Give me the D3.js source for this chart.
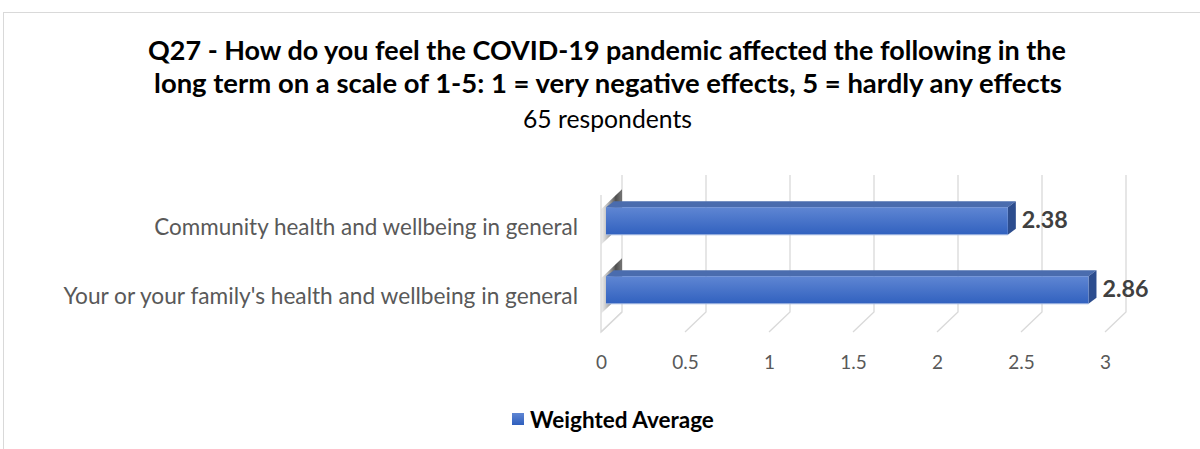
<!DOCTYPE html>
<html><head><meta charset="utf-8">
<script src="https://cdn.jsdelivr.net/npm/d3@7"></script>
<style>body{margin:0;background:#fff}svg{display:block}</style>
</head><body>
<svg id="c" width="1200" height="449"></svg>
<script>
const titleLines = ["Q27 - How do you feel the COVID-19 pandemic affected the following in the",
  "long term on a scale of 1-5: 1 = very negative effects, 5 = hardly any effects"];
const subtitle = "65 respondents";
const categories = ["Community health and wellbeing in general",
  "Your or your family's health and wellbeing in general"];
const values = [2.38, 2.86];
const tickValues = [0, 0.5, 1, 1.5, 2, 2.5, 3];
const tickLabels = ["0", "0.5", "1", "1.5", "2", "2.5", "3"];
const seriesName = "Weighted Average";

const svg = d3.select("#c");
const defs = svg.append("defs");
const gFront = defs.append("linearGradient").attr("id","gf").attr("x1",0).attr("y1",0).attr("x2",0).attr("y2",1);
gFront.append("stop").attr("offset",0).attr("stop-color","#5f86d3");
gFront.append("stop").attr("offset",1).attr("stop-color","#3161bf");
const gSh = defs.append("linearGradient").attr("id","gs").attr("x1",0).attr("y1",0).attr("x2",1).attr("y2",0);
gSh.append("stop").attr("offset",0).attr("stop-color","#e0e0e0").attr("stop-opacity",0.5);
gSh.append("stop").attr("offset",0.7).attr("stop-color","#3a3a3a").attr("stop-opacity",0.9);
gSh.append("stop").attr("offset",1).attr("stop-color","#555").attr("stop-opacity",0.8);
const gLeg = defs.append("linearGradient").attr("id","gl").attr("x1",0).attr("y1",0).attr("x2",0).attr("y2",1);
gLeg.append("stop").attr("offset",0).attr("stop-color","#5f86d3");
gLeg.append("stop").attr("offset",1).attr("stop-color","#2f5fbd");

function fit(sel, w){ const n=sel.node(); const l=n.getComputedTextLength(); sel.attr("font-size", (+sel.attr("font-size"))*w/l); return sel; }
const font = "Lato, 'Open Sans', sans-serif";

// frame
svg.append("rect").attr("x",3.5).attr("y",12.5).attr("width",1210).attr("height",460)
  .attr("fill","none").attr("stroke","#d9d9d9");

// title
fit(svg.append("text").attr("x",607).attr("y",60).attr("text-anchor","middle").attr("font-family",font)
  .attr("font-weight","bold").attr("font-size",23).attr("fill","#000").text(titleLines[0]), 918);
fit(svg.append("text").attr("x",608).attr("y",93).attr("text-anchor","middle").attr("font-family",font)
  .attr("font-weight","bold").attr("font-size",23).attr("fill","#000").text(titleLines[1]), 908);
fit(svg.append("text").attr("x",607.5).attr("y",128).attr("text-anchor","middle").attr("font-family",font)
  .attr("font-size",20).attr("fill","#000").text(subtitle), 169);

const x = d3.scaleLinear().domain([0,3]).range([601,1105]);
const y = d3.scaleBand().domain(categories).range([186.5,324.5]).paddingInner(0.6).paddingOuter(0.3);
const W = {dx:21, dy:-20};          // wall depth
const BF = {dx:7, dy:-6}, BB = {dx:15, dy:-12}; // bar front/back depth offsets
const floorY = 332, wallTopFront = 195;
const grid = svg.append("g").attr("stroke","#d9d9d9").attr("stroke-width",1.3).attr("fill","none");
// left side wall
grid.append("path").attr("d", `M${x(0)},${wallTopFront}L${x(0)},${floorY}L${x(0)+W.dx},${floorY+W.dy}`);
tickValues.forEach(v=>{
  grid.append("path").attr("d", `M${x(v)+W.dx},${175}L${x(v)+W.dx},${floorY+W.dy}L${x(v)},${floorY}`);
});
// bar shadows on the left wall
categories.forEach((c,i)=>{
  const t = y(c), b = y(c)+y.bandwidth();
  svg.append("path").attr("fill","url(#gs)")
    .attr("d", `M${x(0)},${t+2}L${x(0)+W.dx},${t-18}L${x(0)+W.dx},${b-10}L${x(0)},${b+10}Z`);
});
// bars
const bars = svg.append("g");
const labelSizes = [424, 515];
categories.forEach((c,i)=>{
  const t = y(c), b = y(c)+y.bandwidth();
  const x0 = x(0)+BF.dx-2, x1 = x(values[i])+BF.dx;
  const ddx = BB.dx-BF.dx, ddy = BB.dy-BF.dy;
  // top face
  bars.append("path").attr("fill","#4a6cae")
    .attr("d", `M${x0},${t}L${x0+ddx},${t+ddy}L${x1+ddx},${t+ddy}L${x1},${t}Z`);
  // side face
  bars.append("path").attr("fill","#2d4d8e")
    .attr("d", `M${x1},${t}L${x1+ddx},${t+ddy}L${x1+ddx},${b+ddy}L${x1},${b}Z`);
  // front face
  bars.append("rect").attr("x",x0).attr("y",t).attr("width",x1-x0).attr("height",b-t).attr("fill","url(#gf)");
  bars.append("line").attr("x1",x0).attr("x2",x1).attr("y1",b).attr("y2",b).attr("stroke","#a9bde3").attr("stroke-width",1);
  // value label
  fit(svg.append("text").attr("x",x1+ddx+6).attr("y",(t+b)/2+ddy/2+10).attr("font-family",font)
    .attr("font-weight","bold").attr("font-size",20).attr("fill","#404040").text(values[i].toFixed(2)), 46);
  // category label
  fit(svg.append("text").attr("x",578).attr("y",(t+b)/2+14).attr("text-anchor","end").attr("font-family",font)
    .attr("font-size",19).attr("fill","#595959").text(c), labelSizes[i]);
});
// x axis
const ax = d3.axisBottom(x).tickValues(tickValues).tickFormat((d,i)=>tickLabels[i]).tickSize(0);
const axg = svg.append("g").attr("transform",`translate(0,${352})`).call(ax);
axg.select(".domain").remove();
axg.selectAll("text").attr("font-family",font).attr("font-size",19).attr("fill","#595959");
// legend
svg.append("rect").attr("x",512).attr("y",413).attr("width",12).attr("height",12).attr("fill","url(#gl)");
fit(svg.append("text").attr("x",530).attr("y",428).attr("font-family",font).attr("font-weight","bold")
  .attr("font-size",19).attr("fill","#000").text(seriesName), 184);
</script>
</body></html>
